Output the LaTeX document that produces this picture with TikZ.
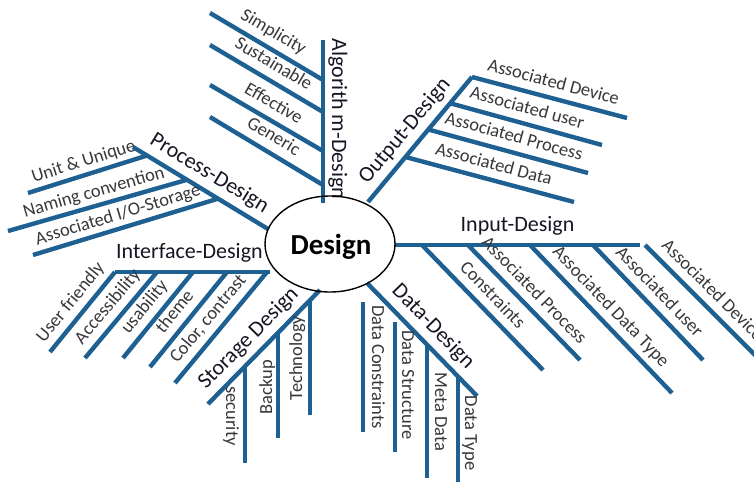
\documentclass[tikz,border=0pt]{standalone}
\usepackage{fontspec}
\setmainfont{Carlito}
\usetikzlibrary{shapes.geometric,calc}
\definecolor{brc}{RGB}{30,96,145}
\definecolor{txtc}{RGB}{55,55,60}
\definecolor{mainc}{RGB}{25,20,35}
\tikzset{
  branch/.style={draw=brc, line width=4.4pt},
  sublbl/.style={font=\fontsize{18.5}{20}\selectfont, text=txtc, inner sep=0pt, text height=12pt, text depth=4pt},
  mainlbl/.style={font=\fontsize{22}{24}\selectfont, text=mainc, inner sep=0pt, text height=14pt, text depth=5pt},
}
\begin{document}
\begin{tikzpicture}[x=1pt,y=-1pt]
\useasboundingbox (0,0) rectangle (754,482);

% ---------------- Algorithm-Design
\coordinate (alg0) at (323,40);
\coordinate (alg1) at (323,203);
\draw[branch] (alg0) -- (alg1);
\node[mainlbl, rotate=-90] (algL) at (336.5,119) {Algorith m-Design};
\coordinate (simA) at (210,13);  \coordinate (simB) at (323,80);
\coordinate (susA) at (210,45);  \coordinate (susB) at (323,112);
\coordinate (effA) at (210,85);  \coordinate (effB) at (323,151);
\coordinate (genA) at (210,117); \coordinate (genB) at (323,185);
\draw[branch] (simA) -- (simB) node[sublbl, sloped, above=4.5pt, pos=.49] (simL) {Simplicity};
\draw[branch] (susA) -- (susB) node[sublbl, sloped, above=4.5pt, pos=.49] (susL) {Sustainable};
\draw[branch] (effA) -- (effB) node[sublbl, sloped, above=4.5pt, pos=.49] (effL) {Effective};
\draw[branch] (genA) -- (genB) node[sublbl, sloped, above=4.5pt, pos=.49] (genL) {Generic};

% ---------------- Process-Design
\coordinate (pro0) at (133,147);
\coordinate (pro1) at (268,229);
\draw[branch] (pro0) -- (pro1) node[mainlbl, sloped, above=4pt, pos=.5] (proL) {Process-Design};
\coordinate (uniA) at (28,193);  \coordinate (uniB) at ($(pro0)!0.104!(pro1)$);
\coordinate (namA) at (8,231);   \coordinate (namB) at ($(pro0)!0.40!(pro1)$);
\coordinate (ioA)  at (33,255);  \coordinate (ioB)  at ($(pro0)!0.63!(pro1)$);
\draw[branch] (uniA) -- (uniB) node[sublbl, sloped, above=2pt, pos=.5] (uniL) {Unit \& Unique};
\draw[branch] (namA) -- (namB) node[sublbl, sloped, above=2pt, pos=.5] (namL) {Naming convention};
\draw[branch] (ioA) -- (ioB) node[sublbl, sloped, above=2pt, pos=.48] (ioL) {Associated I/O-Storage};

% ---------------- Interface-Design
\coordinate (int0) at (115,272);
\coordinate (int1) at (270,272);
\draw[branch] (int0) -- (int1) node[mainlbl, above=6pt, pos=.48] (intL) {Interface-Design};
\coordinate (ufA) at (50,352);   \coordinate (ufB) at (115,272);
\coordinate (acA) at (85,358);   \coordinate (acB) at (157,272);
\coordinate (usA) at (123,358);  \coordinate (usB) at (193,272);
\coordinate (thA) at (150,367);  \coordinate (thB) at (227,272);
\coordinate (ccA) at (175,383);  \coordinate (ccB) at (267,272);
\draw[branch] (ufA) -- (ufB) node[sublbl, sloped, above=4pt, pos=.5] (ufL) {User friendly};
\draw[branch] (acA) -- (acB) node[sublbl, sloped, above=4pt, pos=.48] (acL) {Accessibility};
\draw[branch] (usA) -- (usB) node[sublbl, sloped, above=4pt, pos=.48] (usL) {usability};
\draw[branch] (thA) -- (thB) node[sublbl, sloped, above=4pt, pos=.48] (thL) {theme};
\draw[branch] (ccA) -- (ccB) node[sublbl, sloped, above=4pt, pos=.49] (ccL) {Color, contrast};

% ---------------- Storage Design
\coordinate (sto0) at (208,404);
\coordinate (sto1) at (320,290);
\draw[branch] (sto0) -- (sto1) node[mainlbl, sloped, above=4pt, pos=.47] (stoL) {Storage Design};
\coordinate (secA) at ($(sto0)!0.33!(sto1)$);  \coordinate (secB) at (245,463);
\coordinate (bakA) at ($(sto0)!0.625!(sto1)$); \coordinate (bakB) at (278,438);
\coordinate (tecA) at ($(sto0)!0.91!(sto1)$);  \coordinate (tecB) at (310,415);
\draw[branch] (secA) -- (secA |- secB);
\draw[branch] (bakA) -- (bakA |- bakB);
\draw[branch] (tecA) -- (tecA |- tecB);
\node[sublbl, rotate=-90] (secL) at (230,416) {security};
\node[sublbl, rotate=90] (bakL) at (268,387) {Backup};
\node[sublbl, rotate=90] (tecL) at (298,358) {Technology};

% ---------------- Data-Design
\coordinate (dat0) at (367,283);
\coordinate (dat1) at (477,396);
\draw[branch] (dat0) -- (dat1) node[mainlbl, sloped, above=4pt, pos=.49] (datL) {Data-Design};
\coordinate (dcA) at (363,302); \coordinate (dcB) at (363,432);
\coordinate (dsA) at (395,322); \coordinate (dsB) at (395,452);
\coordinate (mdA) at ($(dat0)!0.545!(dat1)$); \coordinate (mdB) at (427,478);
\coordinate (dtA) at ($(dat0)!0.827!(dat1)$); \coordinate (dtB) at (458,482);
\draw[branch] (dcA) -- (dcB);
\draw[branch] (dsA) -- (dsB);
\draw[branch] (mdA) -- (mdA |- mdB);
\draw[branch] (dtA) -- (dtA |- dtB);
\node[sublbl, rotate=-90] (dcL) at (376,367) {Data Constraints};
\node[sublbl, rotate=-90] (dsL) at (406,385) {Data Structure};
\node[sublbl, rotate=-90] (mdL) at (439,412) {Meta Data};
\node[sublbl, rotate=-90] (dtL) at (469,433) {Data Type};

% ---------------- Input-Design
\coordinate (inp0) at (395,245);
\coordinate (inp1) at (640,245);
\draw[branch] (inp0) -- (inp1) node[mainlbl, above=6pt, pos=.5] (inpL) {Input-Design};
\coordinate (coA) at (422,245);  \coordinate (coB) at (543,370);
\coordinate (apA) at (468,245);  \coordinate (apB) at (580,360);
\coordinate (adtA) at (530,245); \coordinate (adtB) at (672,393);
\coordinate (auA) at (593,245);  \coordinate (auB) at (703,360);
\coordinate (adA) at (645,245);  \coordinate (adB) at (765,365);
\draw[branch] (coA) -- (coB) node[sublbl, sloped, above=4pt, pos=.49] (coL) {Constraints};
\draw[branch] (apA) -- (apB) node[sublbl, sloped, above=4pt, pos=.49] (apL) {Associated Process};
\draw[branch] (adtA) -- (adtB) node[sublbl, sloped, above=4pt, pos=.49] (adtL) {Associated Data Type};
\draw[branch] (auA) -- (auB) node[sublbl, sloped, above=4pt, pos=.5] (auL) {Associated user};
\draw[branch] (adA) -- (adB) node[sublbl, sloped, above=4pt, pos=.47] (adL) {Associated Device};

% ---------------- Output-Design
\coordinate (out0) at (368,202);
\coordinate (out1) at (472,77);
\draw[branch] (out0) -- (out1) node[mainlbl, sloped, above=4pt, pos=.48] (outL) {Output-Design};
\coordinate (odvA) at (out1);                      \coordinate (odvB) at (627,118);
\coordinate (ousA) at ($(out1)!0.21!(out0)$);      \coordinate (ousB) at (602,145);
\coordinate (oprA) at ($(out1)!0.42!(out0)$);      \coordinate (oprB) at (588,173);
\coordinate (odaA) at ($(out1)!0.64!(out0)$);      \coordinate (odaB) at (574,202);
\draw[branch] (odvA) -- (odvB) node[sublbl, sloped, above=4pt, pos=.5] (odvL) {Associated Device};
\draw[branch] (ousA) -- (ousB) node[sublbl, sloped, above=4pt, pos=.48] (ousL) {Associated user};
\draw[branch] (oprA) -- (oprB) node[sublbl, sloped, above=4pt, pos=.51] (oprL) {Associated Process};
\draw[branch] (odaA) -- (odaB) node[sublbl, sloped, above=4pt, pos=.5] (odaL) {Associated Data};

% ---------------- centre
\node[draw=black, ellipse, line width=1.4pt, minimum width=130pt, minimum height=96pt, inner sep=0pt] (design) at (330,244) {};
\node[font=\bfseries\fontsize{29}{30}\selectfont, text=black, anchor=base, inner sep=0pt] (designL) at (331,254) {Design};
\end{tikzpicture}
\end{document}
